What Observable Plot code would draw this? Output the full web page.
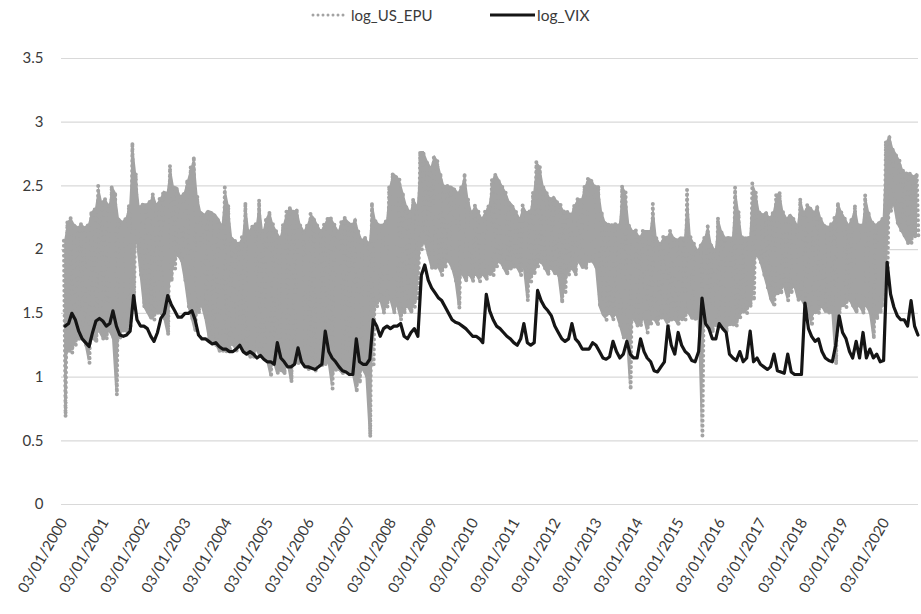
<!DOCTYPE html>
<html>
<head>
<meta charset="utf-8">
<script src="https://cdn.jsdelivr.net/npm/d3@7"></script>
<script src="https://cdn.jsdelivr.net/npm/@observablehq/plot@0.6"></script>
<style>
  body { margin: 0; background: #ffffff; font-family: Lato, "Open Sans", sans-serif; }
  #legend { display: block; }
  #chart svg { display: block; }
</style>
</head>
<body>
<svg id="legend" width="921" height="30">
  <line x1="313" x2="344" y1="15" y2="15" stroke="#a3a3a3" stroke-width="3" stroke-dasharray="0 5" stroke-linecap="round"></line>
  <text x="351" y="20.5" font-family="Lato, sans-serif" font-size="15" fill="#3a3a3a">log_US_EPU</text>
  <line x1="490" x2="535" y1="15" y2="15" stroke="#151515" stroke-width="2.8"></line>
  <text x="537" y="20.5" font-family="Lato, sans-serif" font-size="15.5" fill="#3a3a3a">log_VIX</text>
</svg>
<div id="chart"></div>
<script>
// Monthly readings, Jan 2000 .. Oct 2020
const epuHigh = [
  2.07, 2.22, 2.25, 2.2, 2.18, 2.2, 2.18, 2.2, 2.3, 2.32, 2.5, 2.38,
  2.4, 2.35, 2.5, 2.45, 2.25, 2.22, 2.25, 2.35, 2.84, 2.6, 2.34, 2.36,
  2.36, 2.38, 2.44, 2.36, 2.4, 2.46, 2.45, 2.66, 2.5, 2.49, 2.42, 2.45,
  2.55, 2.65, 2.73, 2.42, 2.3, 2.28, 2.31, 2.3, 2.28, 2.25, 2.2, 2.49,
  2.35, 2.1, 2.07, 2.05, 2.1, 2.37, 2.15, 2.19, 2.2, 2.39, 2.15, 2.25,
  2.3, 2.2, 2.15, 2.1, 2.2, 2.3, 2.33, 2.3, 2.32, 2.2, 2.15, 2.2,
  2.28, 2.25, 2.2, 2.15, 2.2, 2.25, 2.25, 2.2, 2.15, 2.22, 2.25, 2.22,
  2.2, 2.25, 2.15, 2.08, 2.1, 2.05, 2.37, 2.23, 2.2, 2.2, 2.23, 2.5,
  2.6, 2.58, 2.55, 2.45, 2.35, 2.3, 2.4, 2.35, 2.77, 2.77, 2.7, 2.65,
  2.74, 2.7, 2.6, 2.5, 2.5, 2.5, 2.48, 2.45, 2.5, 2.6, 2.4, 2.3,
  2.35, 2.3, 2.25, 2.3, 2.35, 2.55, 2.6, 2.55, 2.5, 2.45, 2.38, 2.35,
  2.3, 2.25, 2.35, 2.3, 2.3, 2.45, 2.69, 2.65, 2.5, 2.45, 2.4, 2.42,
  2.38, 2.35, 2.3, 2.3, 2.28, 2.35, 2.4, 2.4, 2.5, 2.56, 2.55, 2.5,
  2.5, 2.3, 2.22, 2.2, 2.2, 2.2, 2.2, 2.5, 2.45, 2.2, 2.15, 2.15,
  2.1, 2.15, 2.15, 2.15, 2.36, 2.1, 2.05, 2.1, 2.1, 2.15, 2.1, 2.08,
  2.1, 2.1, 2.47, 2.1, 2.05, 2.0, 2.05, 2.1, 2.2, 2.05, 2.0, 2.25,
  2.15, 2.1, 2.1, 2.1, 2.49, 2.3, 2.1, 2.1, 2.1, 2.52, 2.45, 2.3,
  2.28, 2.3, 2.25, 2.3, 2.43, 2.45, 2.3, 2.25, 2.28, 2.25, 2.2, 2.4,
  2.3, 2.35, 2.33, 2.3, 2.35, 2.25, 2.2, 2.18, 2.2, 2.25, 2.37, 2.3,
  2.25, 2.2, 2.25, 2.35, 2.2, 2.2, 2.43, 2.3, 2.22, 2.2, 2.22, 2.25,
  2.85, 2.9, 2.8, 2.75, 2.7, 2.62, 2.6, 2.6, 2.58, 2.6
];
const epuLow = [
  0.69, 1.2, 1.19, 1.25, 1.3, 1.3, 1.25, 1.11, 1.3, 1.27, 1.35, 1.3,
  1.3, 1.35, 1.3, 0.86, 1.3, 1.35, 1.35, 1.4, 1.6, 2.05, 1.8, 1.55,
  1.5, 1.45, 1.45, 1.5, 1.5, 1.45, 1.33, 1.75, 1.85, 1.95, 1.9, 1.75,
  1.55, 1.45, 1.35, 1.5, 1.55, 1.45, 1.3, 1.25, 1.25, 1.2, 1.2, 1.2,
  1.2, 1.25, 1.2, 1.25, 1.2, 1.2, 1.15, 1.15, 1.2, 1.15, 1.15, 1.12,
  1.0, 1.1, 1.02, 1.05, 1.02, 1.1, 0.96, 1.1, 1.1, 1.12, 1.1, 1.05,
  1.08, 1.05, 1.1, 1.08, 1.1, 1.1, 0.91, 1.05, 1.05, 1.02, 1.05, 1.02,
  1.02, 0.88, 0.95, 1.05, 1.0, 0.53, 1.1, 1.55, 1.6, 1.5, 1.55, 1.6,
  1.5, 1.55, 1.45, 1.5, 1.55, 1.5, 1.55, 1.6, 2.0, 2.05, 1.95, 1.85,
  1.85, 1.85, 1.8, 1.85, 1.9, 1.85, 1.75, 1.54, 1.8, 1.75, 1.8, 1.75,
  1.8, 1.75, 1.8, 1.76, 1.8, 1.8, 1.85, 1.9, 1.85, 1.8, 1.85, 1.85,
  1.85, 1.8, 1.85, 1.6, 1.75, 1.8, 1.85, 1.9, 1.85, 1.8, 1.85, 1.8,
  1.8, 1.58, 1.65, 1.8, 1.85, 1.8, 1.9, 1.85, 1.85, 1.9, 1.9, 1.85,
  1.55, 1.48, 1.45, 1.5, 1.45, 1.48, 1.4, 1.3, 1.3, 0.9, 1.45, 1.4,
  1.4, 1.45, 1.35, 1.4, 1.45, 1.4, 1.45, 1.45, 1.4, 1.45, 1.45, 1.4,
  1.45, 1.45, 1.5, 1.45, 1.45, 1.45, 0.54, 1.45, 1.4, 1.35, 1.4, 1.4,
  1.4, 1.35, 1.4, 1.4, 1.4, 1.45, 1.5, 1.5, 1.55, 1.6, 1.95, 1.9,
  1.8, 1.7, 1.6, 1.55, 1.65, 1.65, 1.7, 1.6, 1.65, 1.7, 1.6, 1.6,
  1.55, 1.5, 1.4, 1.5, 1.5, 1.55, 1.5, 1.5, 1.5, 1.1, 1.5, 1.55,
  1.55, 1.6, 1.55, 1.5, 1.55, 1.5, 1.55, 1.5, 1.3, 1.45, 1.5, 1.55,
  1.8, 2.3, 2.35, 2.2, 2.15, 2.1, 2.05, 2.05, 2.1, 2.1
];
const vix = [
  1.4, 1.42, 1.5, 1.45, 1.36, 1.3, 1.27, 1.24, 1.35, 1.44, 1.46, 1.44,
  1.4, 1.42, 1.52, 1.4, 1.33, 1.32, 1.33, 1.36, 1.64, 1.45, 1.4, 1.4,
  1.38, 1.32, 1.28, 1.35, 1.46, 1.5, 1.64, 1.57, 1.52, 1.47, 1.47, 1.5,
  1.5, 1.52, 1.45, 1.33, 1.3, 1.3, 1.28, 1.26, 1.27, 1.24, 1.22, 1.22,
  1.2, 1.2, 1.22, 1.25, 1.2, 1.18, 1.2, 1.18, 1.15, 1.17, 1.14, 1.12,
  1.12, 1.1, 1.27, 1.15, 1.12, 1.08, 1.08, 1.1, 1.23, 1.12, 1.08, 1.08,
  1.07, 1.06, 1.08, 1.1, 1.36, 1.2, 1.15, 1.12, 1.08, 1.05, 1.04, 1.02,
  1.02, 1.3, 1.12, 1.1, 1.1, 1.14, 1.45, 1.4, 1.32, 1.38, 1.4, 1.38,
  1.4, 1.4, 1.42, 1.32, 1.3, 1.35, 1.38, 1.32, 1.8, 1.88, 1.76, 1.7,
  1.66, 1.62, 1.6, 1.55, 1.5, 1.45, 1.43, 1.42, 1.4, 1.38, 1.35, 1.32,
  1.32, 1.3, 1.27, 1.65, 1.52, 1.45, 1.4, 1.38, 1.35, 1.32, 1.3, 1.27,
  1.25, 1.3, 1.42, 1.27, 1.25, 1.27, 1.68, 1.6, 1.55, 1.52, 1.48, 1.4,
  1.35, 1.3, 1.28, 1.3, 1.42, 1.3, 1.27, 1.22, 1.22, 1.22, 1.27, 1.25,
  1.2, 1.15, 1.14, 1.16, 1.28, 1.2, 1.15, 1.18, 1.28, 1.18, 1.15, 1.15,
  1.3, 1.2, 1.15, 1.12, 1.05, 1.04, 1.08, 1.12, 1.4, 1.25, 1.18, 1.35,
  1.25, 1.2, 1.18, 1.13, 1.12, 1.2, 1.62, 1.42, 1.38, 1.3, 1.3, 1.42,
  1.38, 1.35, 1.18, 1.15, 1.13, 1.2, 1.12, 1.15, 1.36, 1.12, 1.15, 1.1,
  1.08, 1.06, 1.08, 1.18, 1.05, 1.04, 1.03, 1.18, 1.04, 1.02, 1.02, 1.02,
  1.58, 1.38, 1.32, 1.28, 1.3, 1.2, 1.15, 1.13, 1.12, 1.25, 1.48, 1.35,
  1.3, 1.2, 1.15, 1.28, 1.15, 1.35, 1.15, 1.22, 1.15, 1.18, 1.12, 1.13,
  1.9, 1.65, 1.55, 1.48, 1.45, 1.45, 1.4, 1.6, 1.4, 1.33
];
const yTicks = [0, 0.5, 1, 1.5, 2, 2.5, 3, 3.5];
const xTickLabels = [
  "03/01/2000", "03/01/2001", "03/01/2002", "03/01/2003", "03/01/2004",
  "03/01/2005", "03/01/2006", "03/01/2007", "03/01/2008", "03/01/2009",
  "03/01/2010", "03/01/2011", "03/01/2012", "03/01/2013", "03/01/2014",
  "03/01/2015", "03/01/2016", "03/01/2017", "03/01/2018", "03/01/2019",
  "03/01/2020"
];

const ym = i => [2000 + Math.floor(i / 12), i % 12];
const epuPts = [];
const epuMonths = [];
epuHigh.forEach((h, i) => {
  const [y, m] = ym(i);
  epuPts.push({ date: new Date(y, m, 4), v: h });
  epuPts.push({ date: new Date(y, m, 19), v: epuLow[i] });
  epuMonths.push({ date: new Date(y, m, 11), lo: epuLow[i], hi: h });
});
const vixPts = vix.map((v, i) => { const [y, m] = ym(i); return { date: new Date(y, m, 15), v }; });

const tickDates = xTickLabels.map(s => { const [dd, mm, yy] = s.split("/"); return new Date(+yy, +mm - 1, +dd); });
const labelByTime = new Map(tickDates.map((d, i) => [+d, xTickLabels[i]]));

const chart = Plot.plot({
  width: 921,
  height: 584,
  marginLeft: 61,
  marginRight: 3,
  marginTop: 28,
  marginBottom: 110,
  x: { type: "time", domain: [new Date(1999, 11, 14), new Date(2020, 9, 20)] },
  y: { domain: [0, 3.5] },
  style: { fontFamily: "Lato, sans-serif", fontSize: "15px", color: "#3a3a3a", background: "#ffffff" },
  marks: [
    Plot.ruleY(yTicks, { stroke: "#d9d9d9", strokeWidth: 1.2 }),
    Plot.axisY({ ticks: yTicks, tickSize: 0, tickPadding: 18, tickFormat: d => String(d), label: null, fontSize: 15 }),
    Plot.axisX({ ticks: tickDates, tickSize: 0, tickPadding: 15, tickRotate: -60, tickFormat: d => labelByTime.get(+d), label: null, fontSize: 15 }),
    Plot.areaY(epuMonths, { x: "date", y1: "lo", y2: "hi", fill: "#a3a3a3" }),
    Plot.line(epuPts, { x: "date", y: "v", stroke: "#a3a3a3", strokeWidth: 4, strokeDasharray: "0 5", strokeLinecap: "round" }),
    Plot.line(vixPts, { x: "date", y: "v", stroke: "#151515", strokeWidth: 3.2, strokeLinejoin: "round" })
  ]
});
document.getElementById("chart").appendChild(chart);
</script>
</body>
</html>
